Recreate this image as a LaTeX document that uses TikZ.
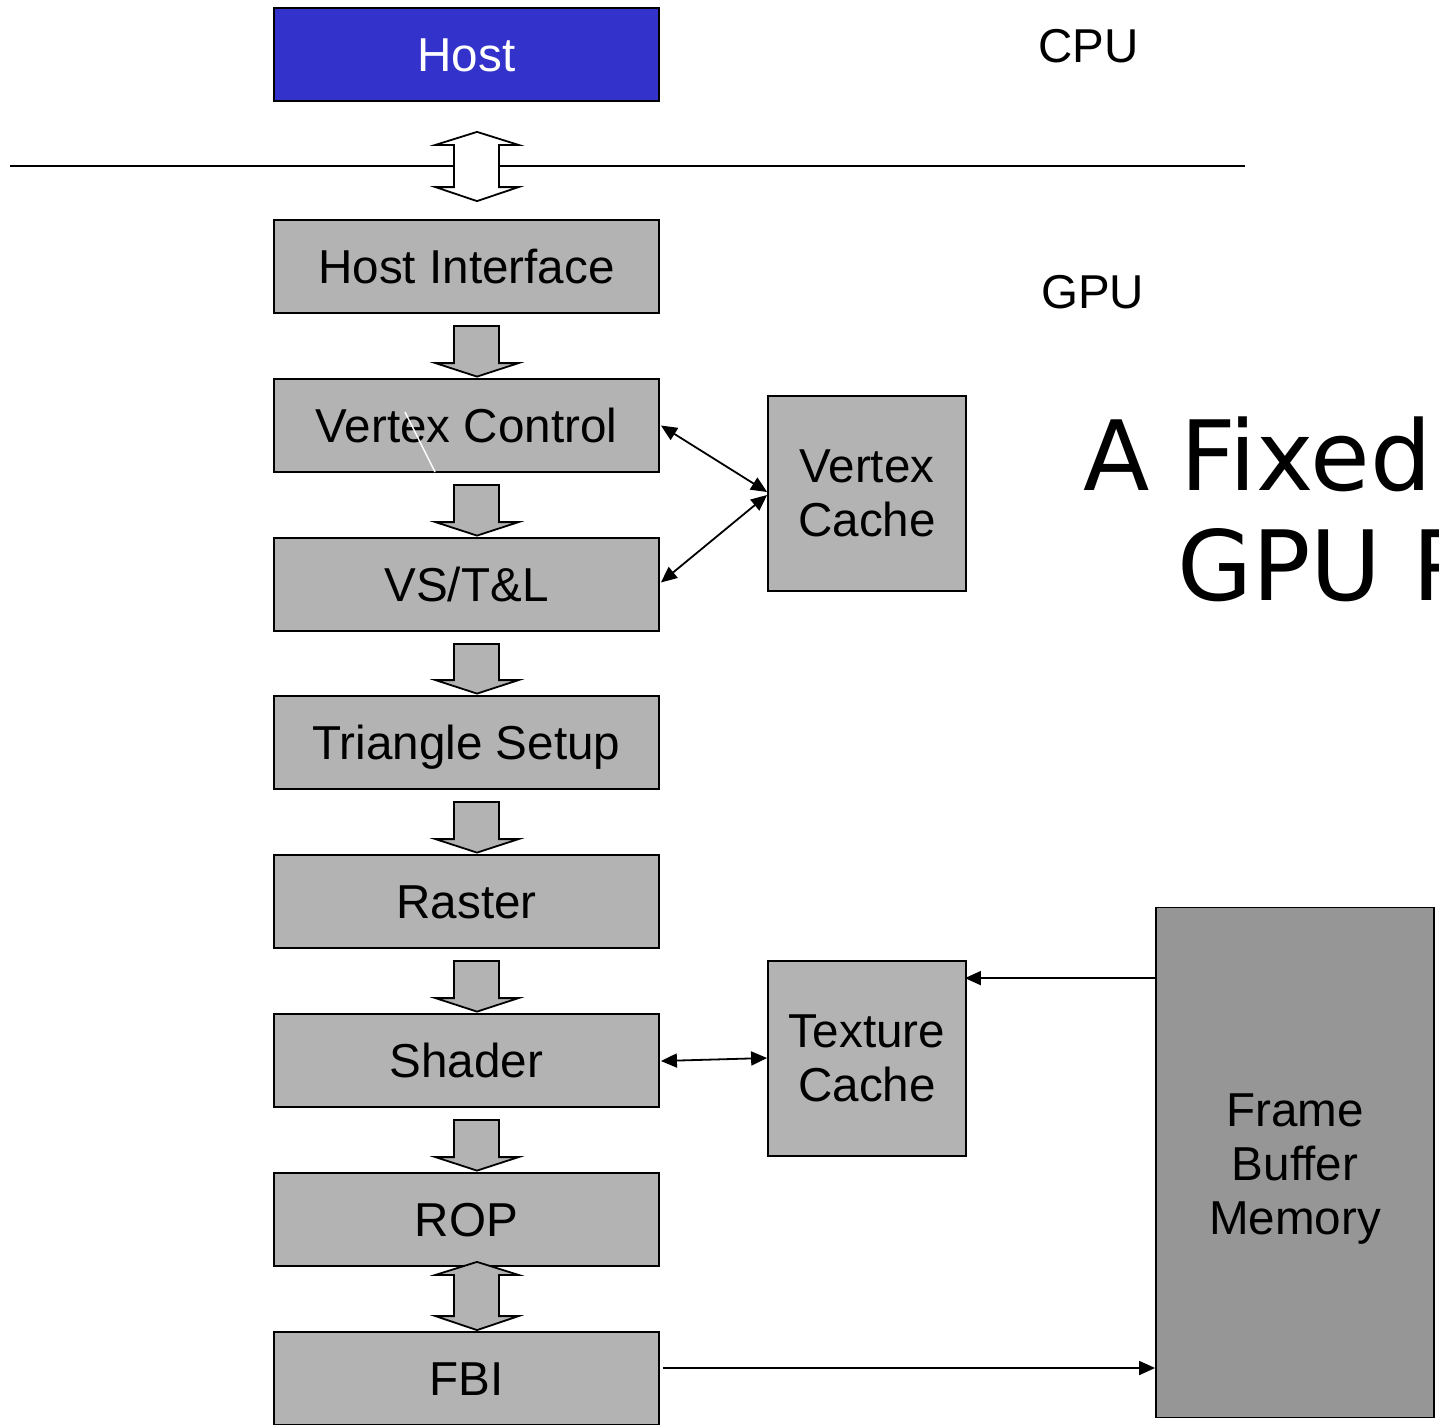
\documentclass[tikz,border=0pt]{standalone}
\usepackage{fontspec}
\usetikzlibrary{arrows.meta,calc}
\newfontfamily\arialf{Liberation Sans}
\newfontfamily\djvf{DejaVu Sans}
\definecolor{boxgray}{RGB}{179,179,179}
\definecolor{fbmgray}{RGB}{150,150,150}
\definecolor{hostblue}{RGB}{51,51,204}
\tikzset{
  stage/.style={draw=black, line width=1.8pt, fill=boxgray, minimum width=385pt, minimum height=93pt,
    inner sep=0pt, font=\arialf\fontsize{47.6}{54}\selectfont, text height=34pt, text depth=0pt},
  cachebox/.style={draw=black, line width=1.8pt, fill=boxgray, minimum width=198pt, minimum height=195pt,
    inner sep=0pt, align=center, font=\arialf\fontsize{47.6}{54}\selectfont},
  membox/.style={draw=black, line width=1.8pt, fill=fbmgray, minimum width=278pt, minimum height=510pt,
    inner sep=0pt},
  memtext/.style={inner sep=0pt, align=center, font=\arialf\fontsize{47.6}{54}\selectfont},
  lbl/.style={anchor=base west, inner sep=0pt, font=\arialf\fontsize{47.5}{54}\selectfont},
  ttl/.style={anchor=base west, inner sep=0pt, font=\djvf\fontsize{97}{110}\selectfont},
  conn/.style={line width=1.8pt, draw=black},
  tipB/.style={-{Triangle[length=16pt,width=14pt]}},
  tipBB/.style={{Triangle[length=16pt,width=14pt]}-{Triangle[length=16pt,width=14pt]}},
  blk/.style={draw=black, line width=1.8pt, fill=boxgray, line join=miter},
  blkw/.style={draw=black, line width=1.8pt, fill=white, line join=miter},
}
% single block arrow from upper node to lower node
\newcommand{\blkdown}[2]{%
  \draw[blk] let \p1=($(#1.south)+(0,12)$), \p2=(#2.north) in
    (\x1-12.5pt,\y1) -- (\x1+32.5pt,\y1) -- (\x1+32.5pt,\y2+15pt) -- (\x1+52pt,\y2+15pt)
    -- (\x1+10.5pt,\y2+1.5pt) -- (\x1-31pt,\y2+15pt) -- (\x1-12.5pt,\y2+15pt) -- cycle;}
% double block arrow
\newcommand{\blkboth}[5]{%
  \draw[#1] let \p1=($(#2.south)+(0,#4)$), \p2=($(#3.north)+(0,-#5)$) in
    (\x1+10.5pt,\y1) -- (\x1+52pt,\y1-13pt) -- (\x1+32.5pt,\y1-13pt) -- (\x1+32.5pt,\y2+14pt)
    -- (\x1+52pt,\y2+14pt) -- (\x1+10.5pt,\y2) -- (\x1-31pt,\y2+14pt) -- (\x1-12.5pt,\y2+14pt)
    -- (\x1-12.5pt,\y1-13pt) -- (\x1-31pt,\y1-13pt) -- cycle;}
\begin{document}
\begin{tikzpicture}[x=1pt,y=-1pt]
\useasboundingbox (0,0) rectangle (1439,1424);
\clip (0,0) rectangle (1439,1424);
\fill[white] (0,0) rectangle (1439,1424);

% CPU/GPU divider line
\coordinate (divL) at (10,166);
\coordinate (divR) at (1245,166);
\draw[line width=1.6pt] (divL) -- (divR);

% main pipeline
\node[stage, fill=hostblue, text=white] (host) at (466.5,54.5) {Host};
\node[stage] (hi)  at (466.5,266.5)  {Host Interface};
\node[stage] (vc)  at (466.5,425.5)  {Vertex Control};
\node[stage] (vst) at (466.5,584.5)  {VS/T\&L};
\node[stage] (ts)  at (466.5,742.5)  {Triangle Setup};
\node[stage] (ras) at (466.5,901.5)  {Raster};
\node[stage] (sh)  at (466.5,1060.5) {Shader};
\node[stage] (rop) at (466.5,1219.5) {ROP};
\node[stage] (fbi) at (466.5,1378.5) {FBI};

% side boxes
\node[cachebox] (vcache) at (867,493.5) {Vertex\\Cache};
\node[cachebox] (tcache) at (867,1058.5) {Texture\\Cache};
\node[membox] (fbm) at (1295,1162.5) {};
\node[memtext] (fbmtext) at ($(fbm.center)+(0,7)$) {Frame\\Buffer\\Memory};

% labels
\node[lbl] (cpu) at (1038,62) {CPU};
\node[lbl] (gpu) at (1041,308) {GPU};
\node[ttl] (t1) at (1083,490) {A Fixed Function};
\node[ttl] (t2) at (1177,600) {GPU Pipeline};

% artifact line in Vertex Control
\draw[white, line width=1.5pt] (405,412) -- (435,472);

% block arrows
\blkboth{blkw}{host}{hi}{30}{18}
\blkdown{hi}{vc}
\blkdown{vc}{vst}
\blkdown{vst}{ts}
\blkdown{ts}{ras}
\blkdown{ras}{sh}
\blkdown{sh}{rop}
\blkboth{blk}{rop}{fbi}{-5}{1}

% thin connectors
\draw[conn, tipBB] ($(vc.east)+(1,0)$) -- ($(vcache.west)+(0,-1.5)$);
\draw[conn, tipBB] ($(vst.east)+(1,-2)$) -- ($(vcache.west)+(0,1.5)$);
\draw[conn, tipBB] ($(sh.east)+(1,0.5)$) -- ($(tcache.west)+(0,-0.5)$);
\coordinate (tcin) at ($(tcache.north east)+(-2,18)$);
\draw[conn, tipB] (fbm.west |- tcin) -- (tcin);
\coordinate (fbiout) at ($(fbi.east)+(3,-10.5)$);
\draw[conn, tipB] (fbiout) -- (fbiout -| fbm.west);
\end{tikzpicture}
\end{document}
